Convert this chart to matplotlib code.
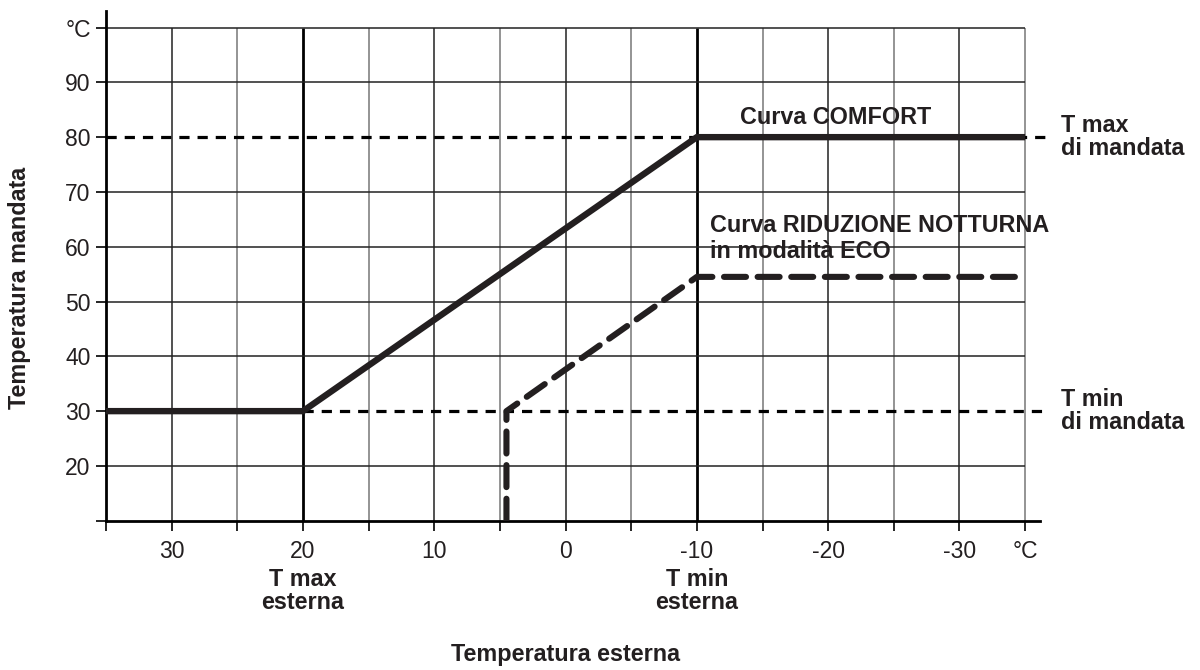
import matplotlib
matplotlib.use("Agg")
import matplotlib.pyplot as plt
import numpy as np

plt.rcParams["font.family"] = ["Liberation Sans", "DejaVu Sans"]

INK = "#231f20"

# comfort curve (outdoor temp -> flow temp)
comfort_x = [35, 20, -10, -35]
comfort_y = [30, 30, 80, 80]

# night reduction curve, ECO mode
eco_x = [4.5, 4.5, -10, -35]
eco_y = [10, 30, 54.5, 54.5]

t_max_mandata = 80
t_min_mandata = 30
t_max_esterna = 20
t_min_esterna = -10

x_ticks = np.arange(35, -36, -5)
x_labels = ["", "30", "", "20", "", "10", "", "0", "", "-10", "", "-20", "", "-30", "°C"]
y_ticks = np.arange(10, 101, 10)
y_labels = ["", "20", "30", "40", "50", "60", "70", "80", "90", "°C"]

fig = plt.figure(figsize=(12, 6.7), dpi=100)
ax = fig.add_axes([0.0883, 0.2228, 0.778, 0.7606])
ax.set_xlim(35, -36.1)
ax.set_ylim(10, 103)

# grid
for xv in x_ticks[1:]:
    if xv in (t_max_esterna, t_min_esterna):
        ax.vlines(xv, 10, 100, color="black", lw=2.0, zorder=1)
    elif xv % 10 == 0:
        ax.vlines(xv, 10, 100, color="#222222", lw=1.1, zorder=1)
    else:
        ax.vlines(xv, 10, 100, color="#777777", lw=1.1, zorder=1)
for yv in y_ticks[1:]:
    if yv in (t_max_mandata, t_min_mandata):
        continue
    ax.hlines(yv, 35, -35, color="#222222", lw=1.1, zorder=1)

# limit lines
ax.plot([35, -36.5], [t_max_mandata, t_max_mandata], color="black", lw=2.3,
        dashes=(3.2, 2.5), clip_on=False, zorder=2)
ax.plot([t_max_esterna, -36.5], [t_min_mandata, t_min_mandata], color="black", lw=2.3,
        dashes=(3.2, 2.5), clip_on=False, zorder=2)

# curves
ax.plot(comfort_x, comfort_y, color=INK, lw=4.6, solid_joinstyle="miter",
        solid_capstyle="butt", zorder=3)
ax.plot(eco_x, eco_y, color=INK, lw=4.4, dashes=(3.6, 1.9), dash_capstyle="round",
        dash_joinstyle="round", zorder=3)

# axes styling
for s in ("top", "right"):
    ax.spines[s].set_visible(False)
ax.spines["left"].set_linewidth(2.0)
ax.spines["bottom"].set_linewidth(2.0)
ax.spines["left"].set_bounds(10, 103)

ax.set_xticks(x_ticks)
ax.set_xticklabels(x_labels)
ax.set_yticks(y_ticks)
ax.set_yticklabels(y_labels)
ax.tick_params(axis="both", direction="out", length=7, width=1.2, colors="black",
               labelsize=16.5, labelcolor=INK)
ax.tick_params(axis="x", pad=7)
ax.tick_params(axis="y", pad=4)

bold = dict(fontsize=16.8, fontweight="bold", color=INK)

ax.text(-37.7, t_max_mandata, "T max\ndi mandata", ha="left", va="center",
        linespacing=1.0, clip_on=False, **bold)
ax.text(-37.7, t_min_mandata, "T min\ndi mandata", ha="left", va="center",
        linespacing=1.0, clip_on=False, **bold)
ax.text(-20.6, 83.6, "Curva COMFORT", ha="center", va="center", **bold)
ax.text(-11, 61.5, "Curva RIDUZIONE NOTTURNA\nin modalità ECO", ha="left",
        va="center", linespacing=1.15, **bold)

trans = ax.get_xaxis_transform()
ax.text(t_max_esterna, -0.137, "T max\nesterna", ha="center", va="center",
        transform=trans, linespacing=1.0, clip_on=False, **bold)
ax.text(t_min_esterna, -0.137, "T min\nesterna", ha="center", va="center",
        transform=trans, linespacing=1.0, clip_on=False, **bold)

fig.text(0.471, 0.0224, "Temperatura esterna", ha="center", va="center", **bold)
fig.text(0.016, 0.57, "Temperatura mandata", ha="center", va="center",
         rotation=90, **bold)

fig.savefig("out.png", dpi=100)
